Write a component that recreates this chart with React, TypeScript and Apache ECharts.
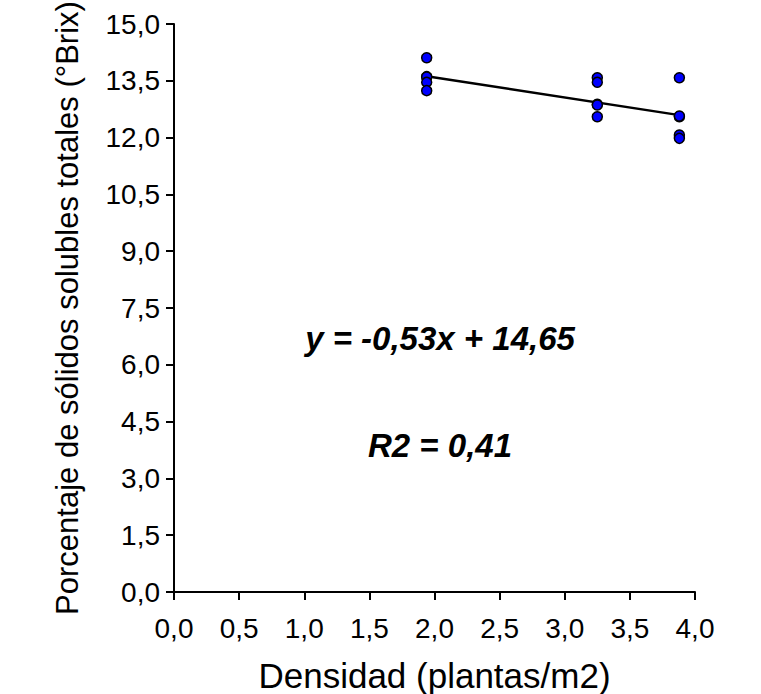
import React, { useEffect, useRef } from "react";
import * as echarts from "echarts";

const xTicks = [0, 0.5, 1, 1.5, 2, 2.5, 3, 3.5, 4];
const yTicks = [0, 1.5, 3, 4.5, 6, 7.5, 9, 10.5, 12, 13.5, 15];
const densities = [1.94, 3.25, 3.88];
const brixAt194 = [14.11, 13.61, 13.6, 13.46, 13.24];
const brixAt325 = [13.58, 13.46, 12.88, 12.86, 12.55];
const brixAt388 = [13.58, 12.55, 12.57, 12.07, 11.98];
const slope = -0.53;
const intercept = 14.65;
const equationText = "y = -0,53x + 14,65";
const r2Text = "R2 = 0,41";

const FONT = "Liberation Sans, Arial, sans-serif";
const fmt = (v: number) => v.toFixed(1).replace(".", ",");

export default function App() {
  const ref = useRef<HTMLDivElement>(null);
  useEffect(() => {
    if (!ref.current) return;
    const chart = echarts.init(ref.current, undefined, { renderer: "svg" });
    const groups = [brixAt194, brixAt325, brixAt388];
    const points: number[][] = [];
    groups.forEach((g, i) => g.forEach((v) => points.push([densities[i], v])));
    const xMin = densities[0];
    const xMax = densities[densities.length - 1];
    const fit = [
      [xMin, slope * xMin + intercept],
      [xMax, slope * xMax + intercept],
    ];
    chart.setOption({
      animation: false,
      backgroundColor: "#ffffff",
      grid: {
        left: 174,
        right: 66,
        top: 24,
        bottom: 102,
        containLabel: false,
        outerBoundsMode: "none",
      },
      xAxis: {
        type: "value",
        min: xTicks[0],
        max: xTicks[xTicks.length - 1],
        interval: 0.5,
        name: "Densidad (plantas/m2)",
        nameLocation: "middle",
        nameGap: 66,
        nameTextStyle: { fontFamily: FONT, fontSize: 35, color: "#000" },
        axisLine: { show: true, lineStyle: { color: "#000", width: 2 } },
        axisTick: { show: true, length: 8, lineStyle: { color: "#000", width: 2 } },
        axisLabel: {
          fontFamily: FONT,
          fontSize: 28,
          color: "#000",
          margin: 22,
          formatter: (v: number) => fmt(v),
          showMaxLabel: true,
          showMinLabel: true,
        },
        splitLine: { show: false },
      },
      yAxis: {
        type: "value",
        min: yTicks[0],
        max: yTicks[yTicks.length - 1],
        interval: 1.5,
        name: "Porcentaje de sólidos solubles totales (°Brix)",
        nameLocation: "middle",
        nameGap: 91,
        nameTextStyle: { fontFamily: FONT, fontSize: 31, color: "#000" },
        axisLine: { show: true, lineStyle: { color: "#000", width: 2 } },
        axisTick: { show: true, length: 8, lineStyle: { color: "#000", width: 2 } },
        axisLabel: {
          fontFamily: FONT,
          fontSize: 28,
          color: "#000",
          margin: 14,
          formatter: (v: number) => fmt(v),
        },
        splitLine: { show: false },
      },
      series: [
        {
          type: "line",
          data: fit,
          symbol: "none",
          lineStyle: { color: "#000", width: 2.5 },
          z: 2,
        },
        {
          type: "scatter",
          data: points,
          symbol: "circle",
          symbolSize: 10,
          itemStyle: { color: "#0000ff", borderColor: "#000", borderWidth: 1.5, opacity: 1 },
          z: 3,
        },
      ],
      graphic: [
        {
          type: "text",
          x: 440,
          y: 338,
          style: {
            text: equationText,
            font: "italic bold 33px " + FONT,
            fill: "#000",
            textAlign: "center",
            textVerticalAlign: "middle",
          },
        },
        {
          type: "text",
          x: 440,
          y: 445,
          style: {
            text: r2Text,
            font: "italic bold 33px " + FONT,
            fill: "#000",
            textAlign: "center",
            textVerticalAlign: "middle",
          },
        },
      ],
    });
    return () => chart.dispose();
  }, []);
  return (
    <div
      ref={ref}
      style={{ position: "fixed", left: 0, top: 0, width: 761, height: 694 }}
    />
  );
}
